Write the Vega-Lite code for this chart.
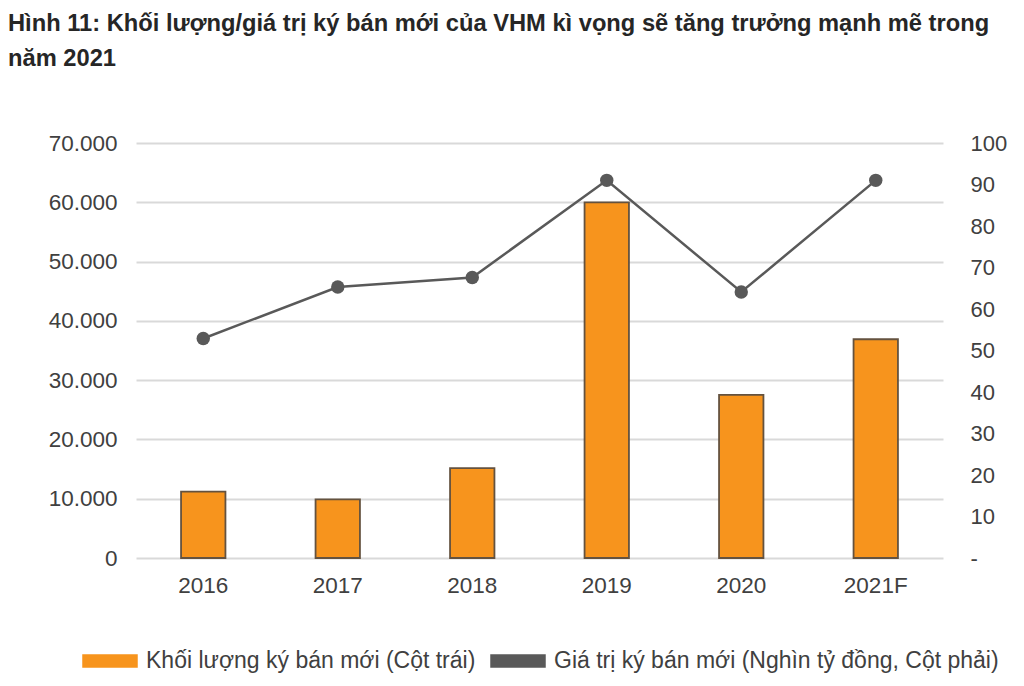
{
  "$schema": "https://vega.github.io/schema/vega-lite/v6.json",
  "width": 807,
  "height": 415,
  "padding": {"left": 8, "top": 12, "right": 10, "bottom": 10},
  "background": "white",
  "config": {
    "view": {"stroke": null},
    "font": "Liberation Sans"
  },
  "title": {
    "text": ["Hình 11: Khối lượng/giá trị ký bán mới của VHM kì vọng sẽ tăng trưởng mạnh mẽ trong", "năm 2021"],
    "anchor": "start",
    "frame": "group",
    "dx": -128,
    "fontSize": 23.7,
    "fontWeight": "bold",
    "font": "Liberation Sans",
    "color": "#262626",
    "lineHeight": 35,
    "offset": 61
  },
  "data": {
    "values": [
      {"year": "2016", "volume": 11200, "value": 52.9},
      {"year": "2017", "volume": 9900, "value": 65.3},
      {"year": "2018", "volume": 15150, "value": 67.6},
      {"year": "2019", "volume": 60000, "value": 91.0},
      {"year": "2020", "volume": 27500, "value": 64.1},
      {"year": "2021F", "volume": 36900, "value": 91.0}
    ]
  },
  "encoding": {
    "x": {
      "field": "year",
      "type": "nominal",
      "sort": null,
      "scale": {"paddingInner": 0.67, "paddingOuter": 0.335},
      "axis": {"title": null, "labelAngle": 0, "ticks": false, "domain": false, "labelFontSize": 22.5, "labelColor": "#404040", "labelPadding": 16, "grid": false}
    }
  },
  "layer": [
    {
      "mark": {"type": "bar", "fill": "#F7941D", "stroke": "#64523f", "strokeWidth": 1.8},
      "encoding": {
        "y": {
          "field": "volume",
          "type": "quantitative",
          "scale": {"domain": [0, 70000]},
          "axis": {"title": null, "values": [0, 10000, 20000, 30000, 40000, 50000, 60000, 70000], "labelExpr": "replace(format(datum.value, ','), ',', '.')", "grid": true, "gridColor": "#d9d9d9", "gridWidth": 1.8, "ticks": false, "domain": false, "labelFontSize": 22.5, "labelColor": "#404040", "labelPadding": 19}
        },
        "color": {
          "datum": "Khối lượng ký bán mới (Cột trái)",
          "type": "nominal",
          "scale": {"domain": ["Khối lượng ký bán mới (Cột trái)", "Giá trị ký bán mới (Nghìn tỷ đồng, Cột phải)"], "range": ["#F7941D", "#595959"]},
          "legend": {
            "orient": "none",
            "legendX": -54,
            "legendY": 490,
            "direction": "horizontal",
            "title": null,
            "labelFontSize": 23,
            "labelColor": "#404040",
            "labelLimit": 0,
            "symbolType": "M-1,-0.22H1V0.22H-1Z",
            "symbolSize": 2916,
            "symbolOpacity": 1,
            "labelOffset": 8,
            "columnPadding": 12
          }
        }
      }
    },
    {
      "mark": {"type": "line", "color": "#595959", "strokeWidth": 2.5, "point": {"filled": true, "size": 180}},
      "encoding": {
        "y": {
          "field": "value",
          "type": "quantitative",
          "scale": {"domain": [0, 100]},
          "axis": {"orient": "right", "title": null, "values": [0, 10, 20, 30, 40, 50, 60, 70, 80, 90, 100], "labelExpr": "datum.value === 0 ? '-' : datum.label", "grid": false, "ticks": false, "domain": false, "labelFontSize": 22, "labelColor": "#404040", "labelPadding": 27}
        },
        "color": {"datum": "Giá trị ký bán mới (Nghìn tỷ đồng, Cột phải)", "type": "nominal"}
      }
    }
  ],
  "resolve": {"scale": {"y": "independent"}}
}
